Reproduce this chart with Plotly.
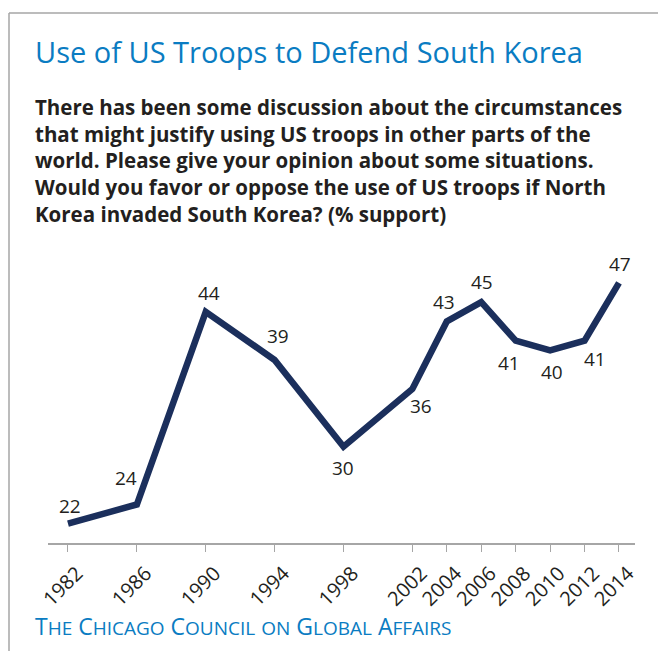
import plotly.graph_objects as go

# Survey years and share of respondents in favour (%)
years = [1982, 1986, 1990, 1994, 1998, 2002, 2004, 2006, 2008, 2010, 2012, 2014]
support = [22, 24, 44, 39, 30, 36, 43, 45, 41, 40, 41, 47]
tick_labels = [str(y) for y in years]

title_text = "Use of US Troops to Defend South Korea"
question_lines = [
    "There has been some discussion about the circumstances",
    "that might justify using US troops in other parts of the",
    "world. Please give your opinion about some situations.",
    "Would you favor or oppose the use of US troops if North",
    "Korea invaded South Korea? (% support)",
]

W, H = 658, 651
FONT = "Open Sans"
BLUE = "#0a7cc2"
NAVY = "#1b2f5c"
INK = "#231f20"
GRID = "#a6a6a6"

# label offsets (pixels) from each point: (dx, dy), dy positive = up
label_offsets = [(2, 18), (-11, 26), (3, 19), (3, 24), (0, -21), (9, -17),
                 (-3, 19), (1, 20), (-7, -22), (2, -22), (10, -18), (1, 19)]


def px(x):
    return x / W


def py(y):
    return 1 - y / H


fig = go.Figure()
fig.add_trace(go.Scatter(
    x=years, y=support, mode="lines",
    line=dict(color=NAVY, width=6.5),
    cliponaxis=False, hoverinfo="skip", showlegend=False,
))

annotations = []
for yr, val, (dx, dy) in zip(years, support, label_offsets):
    annotations.append(dict(
        x=yr, y=val, xref="x", yref="y", text=str(val), showarrow=False,
        xanchor="center", yanchor="middle", xshift=dx, yshift=dy,
        font=dict(family=FONT, size=19, color=INK),
    ))

annotations.append(dict(
    x=px(33), y=py(30), xref="paper", yref="paper", text=title_text,
    showarrow=False, xanchor="left", yanchor="top",
    font=dict(family=FONT, size=29, color=BLUE),
))
annotations.append(dict(
    x=px(33), y=py(91), xref="paper", yref="paper",
    text="<b>" + "<br>".join(question_lines) + "</b>",
    showarrow=False, xanchor="left", yanchor="top", align="left",
    font=dict(family=FONT, size=20.5, color=INK),
))


def small_caps(words, small=19):
    parts = []
    for w in words:
        if w.islower():
            parts.append(f"<span style='font-size:{small}px'>{w.upper()}</span>")
        else:
            parts.append(w[0] + f"<span style='font-size:{small}px'>{w[1:].upper()}</span>")
    return " ".join(parts)


annotations.append(dict(
    x=px(33), y=py(608), xref="paper", yref="paper",
    text=small_caps(["The", "Chicago", "Council", "on", "Global", "Affairs"]),
    showarrow=False, xanchor="left", yanchor="top",
    font=dict(family=FONT, size=23, color=BLUE),
))

# open frame: left and top rules
shapes = [
    dict(type="line", xref="paper", yref="paper", x0=px(9), x1=px(9),
         y0=py(13), y1=py(H + 5), line=dict(color=GRID, width=1.5)),
    dict(type="line", xref="paper", yref="paper", x0=px(9), x1=px(W + 5),
         y0=py(13), y1=py(13), line=dict(color=GRID, width=1.5)),
]

fig.update_layout(
    width=W, height=H,
    margin=dict(l=0, r=0, t=0, b=0),
    paper_bgcolor="white", plot_bgcolor="white",
    annotations=annotations, shapes=shapes,
    xaxis=dict(
        domain=[px(48), px(635)], range=[1980.84, 2014.93],
        tickvals=years, ticktext=tick_labels, tickangle=-45,
        ticks="outside", ticklen=7, tickcolor=GRID, tickwidth=1.2,
        ticklabelshift=9, ticklabelstandoff=2,
        showline=True, linecolor=GRID, linewidth=1.5,
        showgrid=False, zeroline=False, automargin=False,
        tickfont=dict(family=FONT, size=20, color=INK),
    ),
    yaxis=dict(
        domain=[py(543), py(254)], range=[20, 50], visible=False,
        showgrid=False, zeroline=False, automargin=False,
    ),
)

fig.write_html("out.html")
